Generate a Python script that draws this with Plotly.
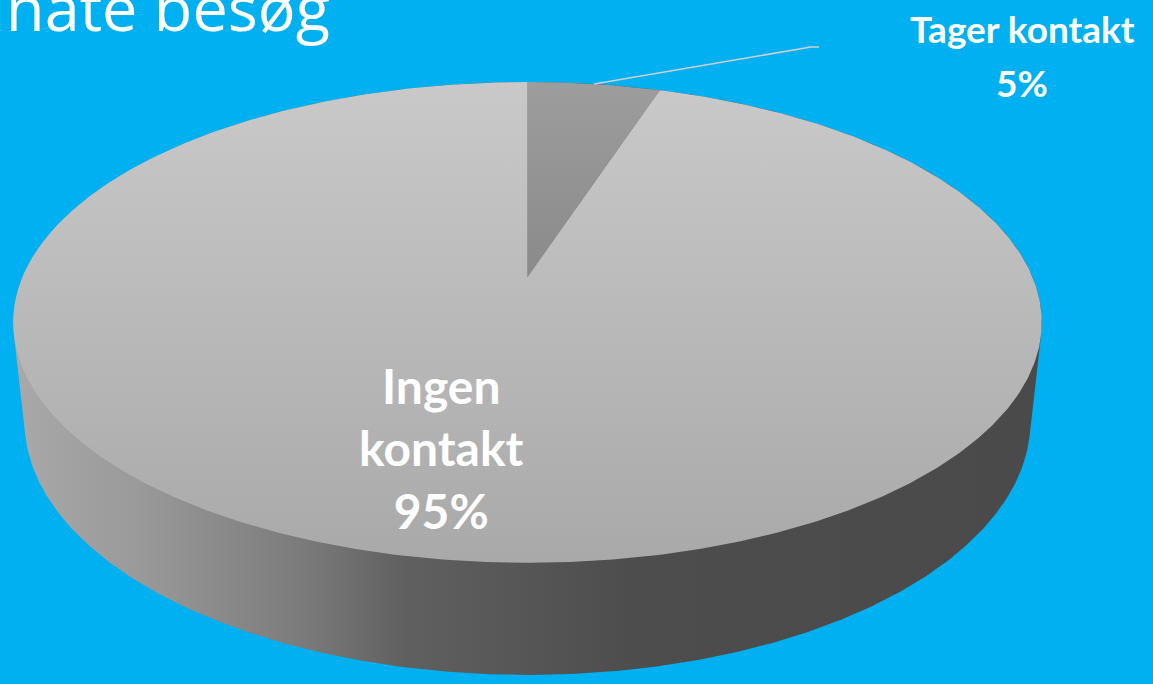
import numpy as np
import plotly.graph_objects as go

# Survey shares (percent)
categories = ["Tager kontakt", "Ingen kontakt"]
shares = [5, 95]
title_text = "nate besøg"

# Top-face gradients per slice (near edge -> far edge) and side gradient
top_colors = [["#8a8a8a", "#9d9d9d"], ["#a9a9a9", "#c9c9c9"]]
side_scale = [[0.0, "#a9a9a9"], [0.12, "#9a9a9a"], [0.28, "#7b7b7b"],
              [0.38, "#606060"], [0.6, "#4d4d4d"], [1.0, "#4a4a4a"]]
BG = "#00B0F0"

W, H = 1153, 684

# Perspective camera for the tilted disc (screen pixels)
CX, CY = 527.5, 277.0       # projected disc centre
S = 505.0                    # f*R/D
K = 0.189                    # R*cos(a)/D
SIN_A, COS_A = 0.459, 0.888  # camera elevation
T = 0.222                    # thickness / radius
TAU = T * 0.213 * SIN_A      # depth shift of the bottom face


def project(theta, z=0.0):
    """Map a rim angle (far side = +90 deg) at depth fraction z to screen."""
    den = 1 + K * np.sin(theta) + TAU * z
    u = S * np.cos(theta) / den
    v = (S * SIN_A * np.sin(theta) - S * T * COS_A * z) / den
    return CX + u, CY - v


def convex_hull(pts):
    pts = sorted(set(pts))
    def cross(o, a, b):
        return (a[0] - o[0]) * (b[1] - o[1]) - (a[1] - o[1]) * (b[0] - o[0])
    lower, upper = [], []
    for p in pts:
        while len(lower) >= 2 and cross(lower[-2], lower[-1], p) <= 0:
            lower.pop()
        lower.append(p)
    for p in reversed(pts):
        while len(upper) >= 2 and cross(upper[-2], upper[-1], p) <= 0:
            upper.pop()
        upper.append(p)
    return lower[:-1] + upper[:-1]


fig = go.Figure()

# Cylinder wall: silhouette of top and bottom rims
ring = np.linspace(0, 2 * np.pi, 720, endpoint=False)
tx, ty = project(ring, 0.0)
bx, by = project(ring, 1.0)
hull = convex_hull([(round(a, 3), round(b, 3)) for a, b in zip(np.r_[tx, bx], np.r_[ty, by])])
hx = [p[0] for p in hull] + [hull[0][0]]
hy = [p[1] for p in hull] + [hull[0][1]]
fig.add_trace(go.Scatter(
    x=hx, y=hy, mode="lines", fill="toself", line=dict(width=0),
    fillgradient=dict(type="horizontal", colorscale=side_scale),
    hoverinfo="skip", showlegend=False))

# Top face slices, clockwise from twelve o'clock
start = np.pi / 2
mids = []
for i, share in enumerate(shares):
    sweep = 2 * np.pi * share / 100.0
    th = np.linspace(start, start - sweep, max(8, int(share * 8)))
    ax, ay = project(th, 0.0)
    xs = np.r_[CX, ax, CX]
    ys = np.r_[CY, ay, CY]
    c0, c1 = top_colors[i]
    fig.add_trace(go.Scatter(
        x=xs, y=ys, mode="lines", fill="toself", line=dict(width=0),
        fillgradient=dict(type="vertical", colorscale=[[0, c0], [1, c1]]),
        hoverinfo="skip", showlegend=False))
    mids.append(start - sweep / 2)
    start -= sweep

# Leader line from the small slice to its label
lx, ly = project(mids[0], 0.0)
fig.add_trace(go.Scatter(
    x=[float(lx), 811, 819], y=[float(ly), 47, 47], mode="lines",
    line=dict(color="#cfcfcf", width=1.6), hoverinfo="skip", showlegend=False))

label_font = dict(family="Lato", color="white", weight="bold")
fig.add_annotation(x=1022, y=28, xref="x", yref="y", showarrow=False,
                   text=categories[0], font=dict(size=37, **label_font))
fig.add_annotation(x=1022, y=82, xref="x", yref="y", showarrow=False,
                   text=f"{shares[0]}%", font=dict(size=37, **label_font))
fig.add_annotation(x=441, y=448, xref="x", yref="y", showarrow=False,
                   text="Ingen<br>kontakt<br>" + f"{shares[1]}%",
                   font=dict(size=48, **label_font))

fig.add_annotation(x=4, y=6, xref="x", yref="y", xanchor="left", showarrow=False,
                   text=title_text,
                   font=dict(family="Open Sans", size=63, color="white"))

fig.update_layout(
    width=W, height=H, margin=dict(l=0, r=0, t=0, b=0),
    paper_bgcolor=BG, plot_bgcolor=BG,
    xaxis=dict(range=[0, W], visible=False, fixedrange=True),
    yaxis=dict(range=[H, 0], visible=False, fixedrange=True),
)

fig.write_html("out.html")
